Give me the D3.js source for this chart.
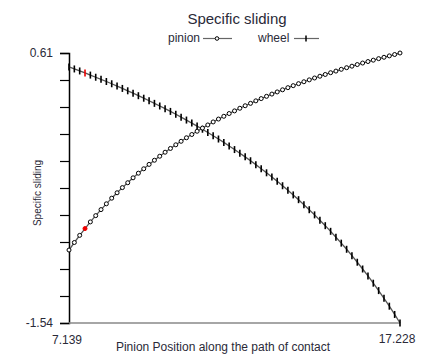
<!DOCTYPE html>
<html>
<head>
<meta charset="utf-8">
<script src="https://cdn.jsdelivr.net/npm/d3@7"></script>
<style>
  body { margin: 0; background: #fff; }
  svg { display: block; font-family: "Liberation Sans", Arial, sans-serif; }
</style>
</head>
<body>
<svg id="chart" width="432" height="355"></svg>
<script>
// pinion position along the path of contact
const positions = [
  7.139, 7.302, 7.465, 7.627, 7.790, 7.953, 8.115, 8.278, 8.441, 8.604,
  8.766, 8.929, 9.092, 9.254, 9.417, 9.580, 9.743, 9.905, 10.068, 10.231,
  10.394, 10.556, 10.719, 10.882, 11.044, 11.207, 11.370, 11.533, 11.695, 11.858,
  12.021, 12.184, 12.346, 12.509, 12.672, 12.834, 12.997, 13.160, 13.323, 13.485,
  13.648, 13.811, 13.974, 14.136, 14.299, 14.462, 14.624, 14.787, 14.950, 15.113,
  15.275, 15.438, 15.601, 15.763, 15.926, 16.089, 16.252, 16.414, 16.577, 16.740,
  16.903, 17.065, 17.228
];

const pinion = [
  -0.959, -0.899, -0.842, -0.788, -0.735, -0.685, -0.637, -0.591, -0.546, -0.503,
  -0.462, -0.423, -0.384, -0.347, -0.312, -0.277, -0.244, -0.212, -0.180, -0.150,
  -0.121, -0.093, -0.065, -0.039, -0.013, 0.012, 0.037, 0.061, 0.084, 0.106,
  0.128, 0.149, 0.170, 0.190, 0.209, 0.229, 0.247, 0.265, 0.283, 0.300,
  0.317, 0.334, 0.350, 0.366, 0.381, 0.396, 0.411, 0.425, 0.439, 0.453,
  0.466, 0.480, 0.493, 0.505, 0.518, 0.530, 0.542, 0.553, 0.565, 0.576,
  0.587, 0.598, 0.610
];

const wheel = [
  0.499, 0.483, 0.467, 0.451, 0.434, 0.417, 0.400, 0.383, 0.365, 0.347,
  0.328, 0.309, 0.290, 0.270, 0.250, 0.230, 0.209, 0.188, 0.167, 0.145,
  0.122, 0.099, 0.076, 0.052, 0.028, 0.003, -0.023, -0.049, -0.075, -0.102,
  -0.130, -0.159, -0.188, -0.217, -0.248, -0.279, -0.311, -0.344, -0.377, -0.412,
  -0.447, -0.483, -0.520, -0.558, -0.598, -0.638, -0.679, -0.722, -0.765, -0.810,
  -0.857, -0.904, -0.953, -1.004, -1.056, -1.110, -1.165, -1.223, -1.282, -1.343,
  -1.406, -1.472, -1.540
];

const seriesNames = ['pinion', 'wheel'];
const xLabels = ['7.139', '17.228'];
const yLabels = ['0.61', '-1.54'];
const highlightIndex = 3;

const svg = d3.select('#chart');
const m = { left: 69, right: 400, top: 53, bottom: 323 };
const textColor = '#2a2a38';

const x = d3.scaleLinear().domain([7.139, 17.228]).range([m.left, m.right]);
const y = d3.scaleLinear().domain([-1.54, 0.61]).range([m.bottom, m.top]);

// Title
svg.append('text')
  .attr('x', 237)
  .attr('y', 24)
  .attr('text-anchor', 'middle')
  .style('font-size', '15px')
  .style('fill', textColor)
  .text('Specific sliding');

// Legend
const legend = svg.append('g').style('font-size', '12px').style('fill', textColor);
legend.append('text').attr('x', 168).attr('y', 42).text(seriesNames[0]);
legend.append('line').attr('x1', 203).attr('x2', 232).attr('y1', 38.5).attr('y2', 38.5)
  .attr('stroke', '#666').attr('stroke-width', 1.2);
legend.append('circle').attr('cx', 217).attr('cy', 38.5).attr('r', 1.8)
  .attr('fill', '#fff').attr('stroke', '#000').attr('stroke-width', 1);
legend.append('text').attr('x', 258).attr('y', 42).text(seriesNames[1]);
legend.append('line').attr('x1', 294).attr('x2', 319).attr('y1', 38.5).attr('y2', 38.5)
  .attr('stroke', '#666').attr('stroke-width', 1.2);
legend.append('line').attr('x1', 306).attr('x2', 306).attr('y1', 35.5).attr('y2', 41.5)
  .attr('stroke', '#000').attr('stroke-width', 1.5);

// Y axis
const yTicks = d3.range(0, 11).map(i => -1.54 + i * 0.215);
const yAxis = d3.axisLeft(y)
  .tickValues(yTicks)
  .tickSize(9)
  .tickPadding(7)
  .tickFormat((d, i) => i === 10 ? yLabels[0] : (i === 0 ? yLabels[1] : ''));
const gy = svg.append('g').attr('transform', `translate(${m.left},0)`).call(yAxis);
gy.select('.domain').attr('stroke', '#000').attr('stroke-width', 1.5);
gy.selectAll('.tick line').attr('stroke', '#000').attr('stroke-width', 1.2);
gy.selectAll('.tick text').style('font-size', '12px').style('fill', textColor)
  .style('font-family', '"Liberation Sans", Arial, sans-serif');

// X axis
svg.append('line')
  .attr('x1', m.left).attr('x2', m.right)
  .attr('y1', m.bottom).attr('y2', m.bottom)
  .attr('stroke', '#888').attr('stroke-width', 1.5);
svg.append('text').attr('x', x(7.139) - 2).attr('y', 344).attr('text-anchor', 'middle')
  .style('font-size', '12px').style('fill', textColor).text(xLabels[0]);
svg.append('text').attr('x', x(17.228) - 3).attr('y', 343).attr('text-anchor', 'middle')
  .style('font-size', '12px').style('fill', textColor).text(xLabels[1]);

// Axis titles
svg.append('text').attr('x', 223).attr('y', 351).attr('text-anchor', 'middle')
  .style('font-size', '12px').style('fill', textColor)
  .text('Pinion Position along the path of contact');
svg.append('text')
  .attr('transform', 'translate(41,193) rotate(-90)')
  .attr('text-anchor', 'middle')
  .style('font-size', '10px').style('fill', textColor)
  .text('Specific sliding');

// Series lines
const pinionPts = positions.map((p, i) => ({ x: p, y: pinion[i], i }));
const wheelPts = positions.map((p, i) => ({ x: p, y: wheel[i], i }));
const line = d3.line().x(d => x(d.x)).y(d => y(d.y));

[pinionPts, wheelPts].forEach(pts => {
  svg.append('path')
    .datum(pts)
    .attr('d', line)
    .attr('fill', 'none')
    .attr('stroke', '#555')
    .attr('stroke-width', 1.3);
});

// Wheel markers: short vertical ticks
svg.append('g').selectAll('line')
  .data(wheelPts)
  .enter()
  .append('line')
  .attr('x1', d => x(d.x)).attr('x2', d => x(d.x))
  .attr('y1', d => y(d.y) - 3.5).attr('y2', d => y(d.y) + 3.5)
  .attr('stroke', d => d.i === highlightIndex ? '#e00' : '#000')
  .attr('stroke-width', 1.6);

// Pinion markers: small open circles
svg.append('g').selectAll('circle')
  .data(pinionPts)
  .enter()
  .append('circle')
  .attr('cx', d => x(d.x))
  .attr('cy', d => y(d.y))
  .attr('r', 2)
  .attr('fill', d => d.i === highlightIndex ? '#e00' : '#fff')
  .attr('stroke', d => d.i === highlightIndex ? '#e00' : '#000')
  .attr('stroke-width', 1);
</script>
</body>
</html>
